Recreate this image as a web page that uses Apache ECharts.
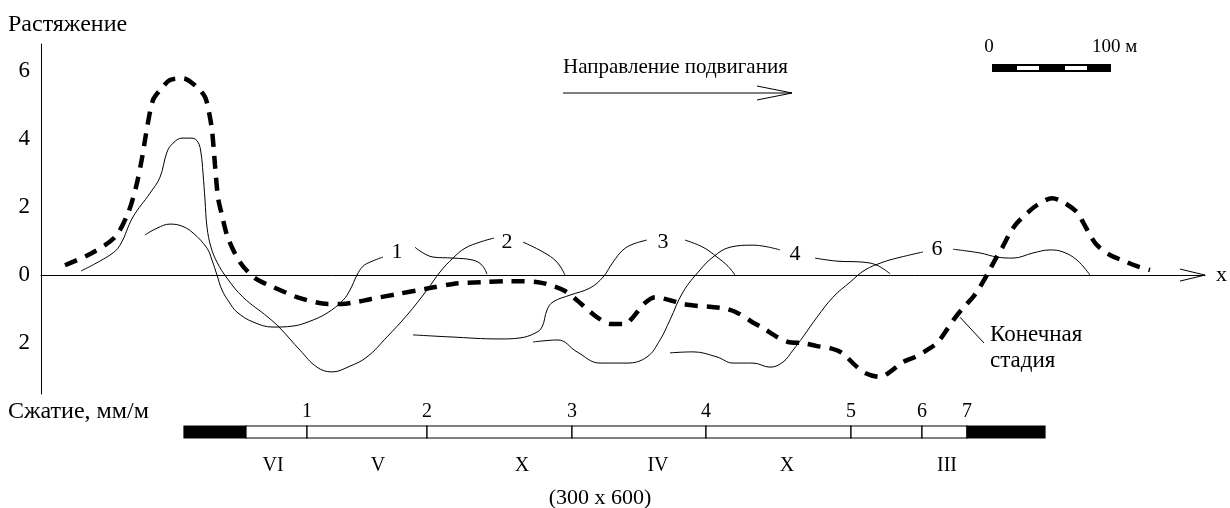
<!DOCTYPE html>
<html>
<head>
<meta charset="utf-8">
<script src="https://cdn.jsdelivr.net/npm/echarts@6/dist/echarts.min.js"></script>
<style>
html, body { margin: 0; padding: 0; background: #fff; }
#chart { width: 1230px; height: 508px; }
</style>
</head>
<body>
<div id="chart"></div>
<script>
// ось X: расстояние (усл. ед.), ось Y: деформации, мм/м (растяжение +, сжатие -)
// кривые 1..6 разбиты на две части, между ними стоит номер кривой
var curve1Left = [[104, 1.18], [116, 1.38], [129, 1.5], [141, 1.44], [152, 1.24], [166, 0.79], [171, 0.44],
  [176, 0], [181, -0.44], [188, -0.79], [196, -1.09], [212, -1.38], [232, -1.53], [252, -1.5], [267, -1.38],
  [286, -1.12], [302, -0.74], [309, -0.44], [316, 0], [322, 0.26], [329, 0.38], [342, 0.53]];
var curve1Right = [[374, 0.82], [392, 0.53], [412, 0.5], [432, 0.44], [441, 0.29], [446, 0.03]];

var curve2Left = [[40, 0.12], [69, 0.59], [79, 0.88], [92, 1.71], [109, 2.41], [119, 2.88], [126, 3.62],
  [132, 3.88], [141, 4.03], [151, 4.03], [157, 3.91], [160, 3.59], [162, 3.0], [164, 2.21], [166, 1.41],
  [170, 0.82], [176, 0.38], [186, -0.09], [202, -0.65], [227, -1.24], [239, -1.56], [259, -2.21], [276, -2.71],
  [291, -2.85], [309, -2.68], [326, -2.41], [346, -1.82], [366, -1.18], [386, -0.44], [399, 0.09], [412, 0.5],
  [424, 0.79], [439, 0.97], [453, 1.09]];
var curve2Right = [[482, 0.97], [502, 0.68], [516, 0.38], [524, 0]];

var curve3Left = [[372, -1.76], [409, -1.82], [459, -1.88], [479, -1.85], [494, -1.71], [501, -1.53], [506, -1.03],
  [512, -0.79], [529, -0.59], [549, -0.38], [562, -0.06], [572, 0.38], [582, 0.74], [592, 0.91], [606, 1.03]];
var curve3Right = [[644, 1.03], [662, 0.82], [676, 0.53], [687, 0.26], [694, 0]];

var curve4Left = [[492, -1.97], [517, -1.91], [536, -2.26], [559, -2.59], [586, -2.59], [606, -2.41], [619, -1.91],
  [629, -1.32], [642, -0.5], [659, 0.15], [672, 0.53], [689, 0.82], [712, 0.88], [739, 0.74]];
var curve4Right = [[774, 0.5], [796, 0.41], [822, 0.38], [836, 0.29], [849, 0.04]];

var curve6Left = [[629, -2.29], [652, -2.26], [676, -2.41], [692, -2.59], [712, -2.59], [729, -2.71], [742, -2.56],
  [752, -2.21], [762, -1.82], [776, -1.24], [792, -0.65], [809, -0.21], [824, 0.15], [842, 0.38], [856, 0.5], [882, 0.68]];
var curve6Right = [[912, 0.76], [939, 0.65], [956, 0.53], [972, 0.5], [992, 0.65], [1009, 0.74], [1022, 0.68],
  [1036, 0.44], [1049, 0]];

// конечная стадия (жирный пунктир)
var finalStage = [[24, 0.29], [51, 0.65], [74, 1.12], [87, 1.82], [95, 2.59], [101, 3.44], [106, 4.32], [112, 5.15],
  [119, 5.44], [129, 5.74], [142, 5.79], [156, 5.53], [164, 5.24], [168, 4.79], [171, 4.26], [174, 3.24], [177, 2.29],
  [181, 1.76], [187, 1.09], [199, 0.38], [214, -0.09], [232, -0.35], [246, -0.53], [259, -0.68], [287, -0.85],
  [301, -0.85], [316, -0.79], [329, -0.71], [356, -0.56], [384, -0.41], [412, -0.26], [441, -0.21], [469, -0.18],
  [497, -0.21], [512, -0.32], [524, -0.47], [536, -0.74], [546, -1.0], [557, -1.26], [569, -1.44], [584, -1.44],
  [592, -1.24], [604, -0.82], [614, -0.65], [629, -0.74], [642, -0.85], [657, -0.91], [671, -0.94], [686, -1.0],
  [697, -1.12], [711, -1.38], [722, -1.56], [736, -1.82], [747, -1.97], [762, -2.0], [776, -2.09], [789, -2.15],
  [801, -2.29], [814, -2.65], [824, -2.88], [839, -3.0], [849, -2.85], [862, -2.56], [874, -2.41], [889, -2.15],
  [897, -1.97], [907, -1.56], [914, -1.26], [922, -0.97], [932, -0.65], [939, -0.35], [947, 0.06], [955, 0.5],
  [961, 0.79], [969, 1.24], [976, 1.53], [986, 1.82], [996, 2.06], [1011, 2.26], [1022, 2.15], [1036, 1.85],
  [1042, 1.56], [1049, 1.18], [1056, 0.88], [1069, 0.59], [1081, 0.44], [1096, 0.26], [1109, 0.15]];

// подписи кривых [x, y, текст]
var curveLabels = [[356, 0.68, '1'], [466, 0.97, '2'], [622, 0.97, '3'], [754, 0.62, '4'], [896, 0.76, '6']];
var finalLabel = [[949, -2.15, 'Конечная\nстадия']];
var finalLeader = [[919, -1.24], [943, -2.0]];

var yTicks = [-2, 0, 2, 4, 6];

// схема столбов/панелей внизу: [начало, конец, чёрный?]
var panels = [[143, 205, 1], [205, 266, 0], [266, 386, 0], [386, 531, 0], [531, 665, 0],
  [665, 810, 0], [810, 881, 0], [881, 926, 0], [926, 1004, 1]];
var panelNumbers = [[266, '1'], [386, '2'], [531, '3'], [665, '4'], [810, '5'], [881, '6'], [926, '7']];
var panelRoman = [[232, 'VI'], [337, 'V'], [481, 'X'], [617, 'IV'], [746, 'X'], [906, 'III']];
var panelNote = [[559, '(300 x 600)']];

var FONT = 'Liberation Serif';

function thinLine(data) {
  return {
    type: 'line', data: data, smooth: 0.4, showSymbol: false, silent: true,
    xAxisIndex: 0, yAxisIndex: 0,
    lineStyle: { color: '#000', width: 1 }
  };
}

// подписи рисуются невидимыми точками scatter с текстом
function textSeries(data, gridIdx, size, align) {
  return {
    type: 'scatter', xAxisIndex: gridIdx, yAxisIndex: gridIdx, clip: false, silent: true,
    symbol: 'circle', symbolSize: 1, itemStyle: { color: 'rgba(0,0,0,0)', opacity: 1 },
    data: data,
    label: {
      show: true, position: 'inside', color: '#000', opacity: 1, fontFamily: FONT, fontSize: size,
      align: align || 'center', verticalAlign: 'middle', lineHeight: size + 3,
      formatter: function (p) { return p.value[2]; }
    }
  };
}

var chart = echarts.init(document.getElementById('chart'));

var option = {
  animation: false,
  backgroundColor: '#fff',
  grid: [
    { left: 41, right: 25, top: 44, bottom: 114 },
    { left: 41, right: 25, top: 426, height: 12 }
  ],
  xAxis: [
    {
      type: 'value', gridIndex: 0, min: 0, max: 1164,
      axisLine: { show: true, onZero: true, lineStyle: { color: '#000', width: 1 } },
      axisTick: { show: false }, axisLabel: { show: false }, splitLine: { show: false }
    },
    { type: 'value', gridIndex: 1, min: 0, max: 1164, show: false }
  ],
  yAxis: [
    {
      type: 'value', gridIndex: 0, min: -3.5, max: 6.8,
      axisLine: { show: true, lineStyle: { color: '#000', width: 1 } },
      axisTick: { show: false }, splitLine: { show: false },
      axisLabel: {
        customValues: yTicks, margin: 11, color: '#000', fontFamily: FONT, fontSize: 23,
        formatter: function (v) { return String(Math.abs(v)); }
      }
    },
    { type: 'value', gridIndex: 1, min: 0, max: 1, show: false }
  ],
  series: [
    thinLine(curve1Left), thinLine(curve1Right),
    thinLine(curve2Left), thinLine(curve2Right),
    thinLine(curve3Left), thinLine(curve3Right),
    thinLine(curve4Left), thinLine(curve4Right),
    thinLine(curve6Left), thinLine(curve6Right),
    {
      type: 'line', data: finalLeader, showSymbol: false, silent: true,
      lineStyle: { color: '#000', width: 1 }
    },
    {
      type: 'line', data: finalStage, smooth: 0.3, showSymbol: false, silent: true,
      lineStyle: { color: '#000', width: 4.5, type: [13, 9], cap: 'butt' }
    },
    textSeries(curveLabels, 0, 22),
    textSeries(finalLabel, 0, 23, 'left'),
    // полоса панелей
    {
      type: 'custom', xAxisIndex: 1, yAxisIndex: 1, silent: true, clip: false,
      data: panels,
      renderItem: function (params, api) {
        var p0 = api.coord([api.value(0), 1]);
        var p1 = api.coord([api.value(1), 0]);
        return {
          type: 'rect',
          shape: { x: p0[0], y: p0[1], width: p1[0] - p0[0], height: p1[1] - p0[1] },
          style: { fill: api.value(2) ? '#000' : '#fff', stroke: '#000', lineWidth: 1.2 }
        };
      }
    },
    textSeries(panelNumbers.map(function (d) { return [d[0], 2.2, d[1]]; }), 1, 20),
    textSeries(panelRoman.map(function (d) { return [d[0], -2.33, d[1]]; }), 1, 20),
    textSeries(panelNote.map(function (d) { return [d[0], -5.0, d[1]]; }), 1, 22)
  ]
};
chart.setOption(option);

// стрелка оси X и прочее оформление
var tip = chart.convertToPixel({ gridIndex: 0 }, [1164, 0]);
var txt = function (x, y, s, size, align) {
  return { type: 'text', x: x, y: y, silent: true,
    style: { text: s, fill: '#000', font: size + 'px "' + FONT + '"', align: align || 'left', verticalAlign: 'middle' } };
};
chart.setOption({
  graphic: [
    { type: 'polyline', silent: true,
      shape: { points: [[tip[0] - 25, tip[1] - 6], [tip[0], tip[1]], [tip[0] - 25, tip[1] + 6]] },
      style: { stroke: '#000', lineWidth: 1, fill: null } },
    txt(tip[0] + 11, tip[1], 'x', 22),
    txt(8, 25, 'Растяжение', 24),
    txt(8, 412, 'Сжатие, мм/м', 24),
    // направление подвигания
    txt(563, 67, 'Направление подвигания', 21),
    { type: 'line', silent: true, shape: { x1: 563, y1: 93, x2: 792, y2: 93 }, style: { stroke: '#000', lineWidth: 1 } },
    { type: 'polyline', silent: true, shape: { points: [[757, 86], [792, 93], [757, 100]] },
      style: { stroke: '#000', lineWidth: 1, fill: null } },
    // масштаб 0 - 100 м
    txt(989, 47, '0', 19, 'center'),
    txt(1092, 47, '100 м', 19),
    { type: 'rect', silent: true, shape: { x: 992, y: 64, width: 119, height: 8 }, style: { fill: '#000' } },
    { type: 'rect', silent: true, shape: { x: 1017, y: 66, width: 22, height: 4 }, style: { fill: '#fff' } },
    { type: 'rect', silent: true, shape: { x: 1065, y: 66, width: 22, height: 4 }, style: { fill: '#fff' } }
  ]
});
</script>
</body>
</html>
